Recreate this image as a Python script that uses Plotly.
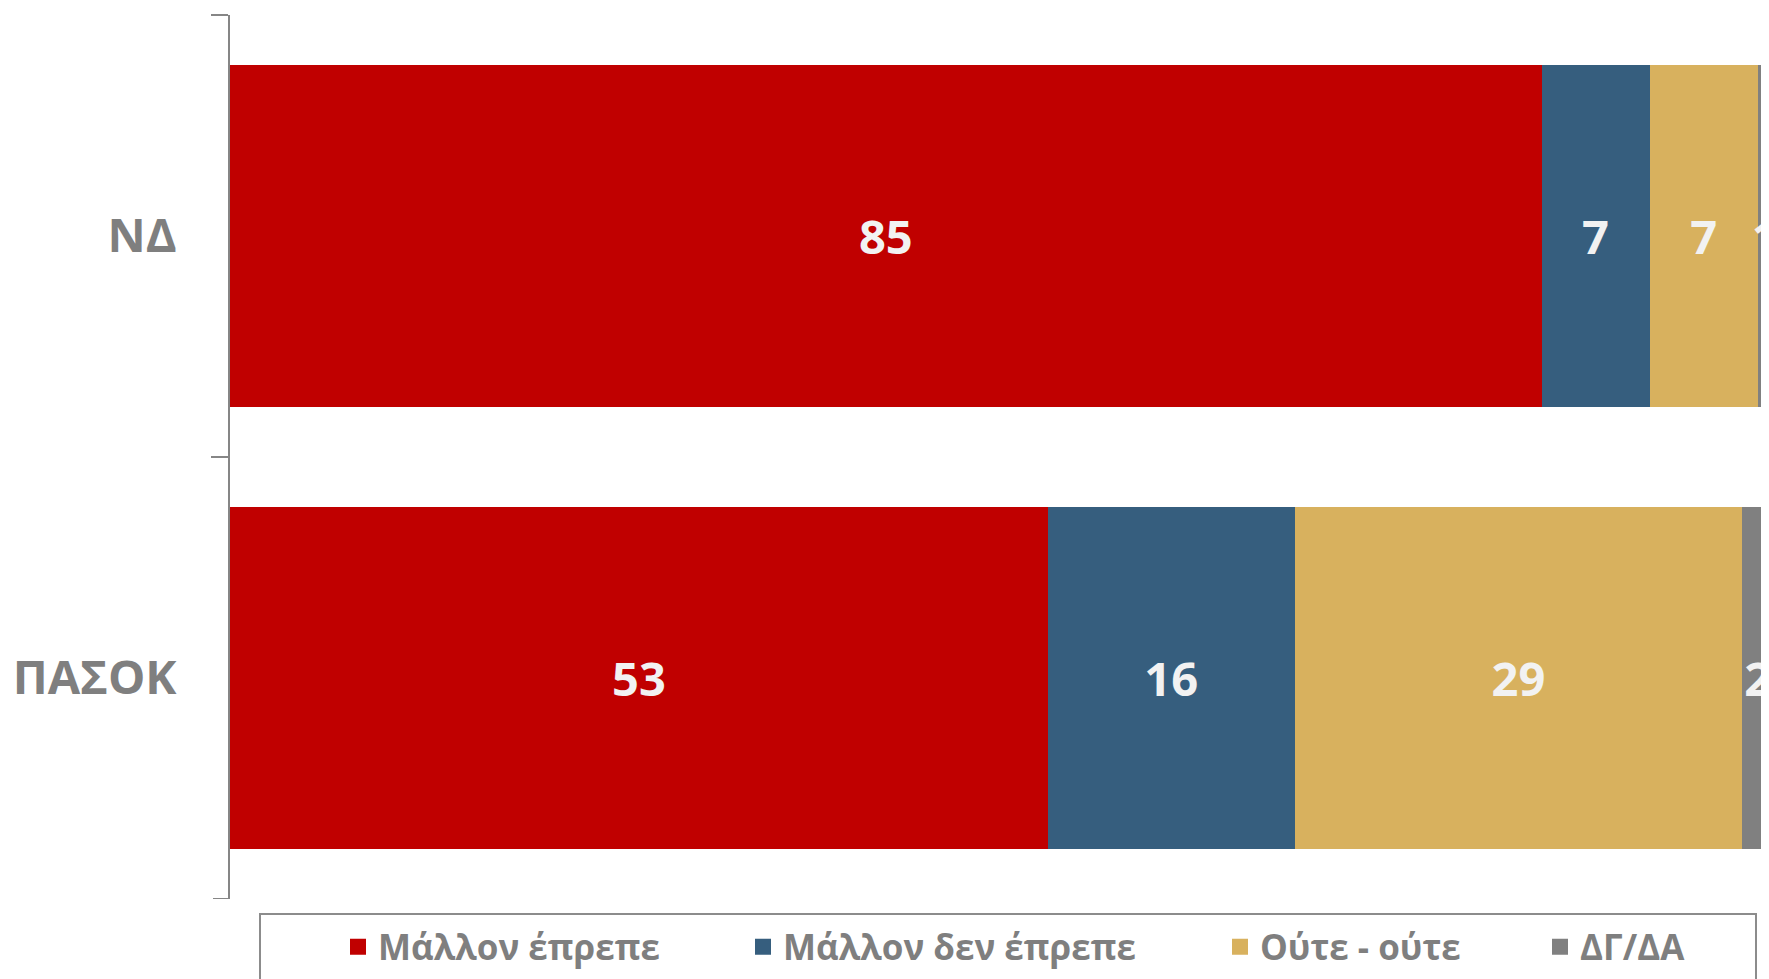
import plotly.graph_objects as go

categories = ["ΝΔ", "ΠΑΣΟΚ"]
series_names = ["Μάλλον έπρεπε", "Μάλλον δεν έπρεπε", "Ούτε - ούτε", "ΔΓ/ΔΑ"]
mallon_eprepe = [85, 53]
mallon_den_eprepe = [7, 16]
oute_oute = [7, 29]
dg_da = [1, 2]
colors = ["#C00000", "#365E7E", "#D8B15E", "#808080"]

series_values = [mallon_eprepe, mallon_den_eprepe, oute_oute, dg_da]

# the page body adds an 8px margin; compensate so the screenshot lines up
OFF = 8
SW, SH = 1769, 979
W, H = SW - OFF, SH - OFF
L = 230 - OFF
T = 15 - OFF
B = 80
R = 0
PW = W - L - R
PH = H - T - B

def sx(px):  # screenshot x -> paper x
    return (px - OFF - L) / PW

def sy(py):  # screenshot y -> paper y
    return (H - B - (py - OFF)) / PH

fig = go.Figure()
for name, vals, col in zip(series_names, series_values, colors):
    fig.add_trace(go.Bar(
        y=categories, x=vals, name=name, orientation="h",
        marker=dict(color=col, line=dict(width=0)),
        text=vals, texttemplate="%{x}", textposition="inside",
        insidetextanchor="middle", textangle=0, constraintext="none",
        textfont=dict(family="Open Sans", size=47, color="#F2F2F2", weight=700),
        showlegend=False, hoverinfo="skip",
    ))

legend_ids = ["legend", "legend2", "legend3", "legend4"]
marker_centers = [352, 757, 1234, 1554]
for name, col, lid in zip(series_names, colors, legend_ids):
    fig.add_trace(go.Scatter(
        x=[None], y=[None], mode="markers", name=name,
        marker=dict(symbol="square", size=16, color=col),
        showlegend=True, legend=lid, hoverinfo="skip",
    ))

legend_layout = {}
for lid, mc in zip(legend_ids, marker_centers):
    legend_layout[lid] = dict(
        x=sx(mc - 14), xanchor="left",
        y=sy(947), yanchor="middle",
        orientation="h", bgcolor="rgba(0,0,0,0)", borderwidth=0,
        font=dict(family="Open Sans", size=35, color="#7F7F7F", weight=700),
        itemsizing="trace",
    )

n_cat = len(categories)
fig.update_layout(
    width=W, height=H,
    margin=dict(l=L, r=R, t=T, b=B, autoexpand=False),
    barmode="stack", bargap=0.226,
    plot_bgcolor="white", paper_bgcolor="white",
    xaxis=dict(range=[0, (SW - 230) / 15.43], visible=False, showgrid=False, zeroline=False),
    yaxis=dict(
        range=[n_cat - 0.5, -0.5], showline=True, linecolor="#868686", linewidth=2,
        ticks="outside", tickson="boundaries", ticklen=17, tickcolor="#868686", tickwidth=2,
        ticklabelstandoff=42,
        tickfont=dict(family="Open Sans", size=47, color="#7F7F7F", weight=700),
        showgrid=False, zeroline=False,
    ),
    shapes=[
        dict(
            type="rect", xref="paper", yref="paper",
            x0=sx(260), x1=sx(1756),
            y0=sy(914), y1=sy(1010),
            line=dict(color="#8C8C8C", width=2), fillcolor="rgba(0,0,0,0)",
        ),
        # closing category-boundary tick at the bottom of the axis
        dict(
            type="line", xref="paper", yref="y",
            x0=sx(213), x1=0, y0=n_cat - 0.5, y1=n_cat - 0.5,
            line=dict(color="#868686", width=2),
        ),
    ],
    **legend_layout,
)

fig.write_html("out.html")
